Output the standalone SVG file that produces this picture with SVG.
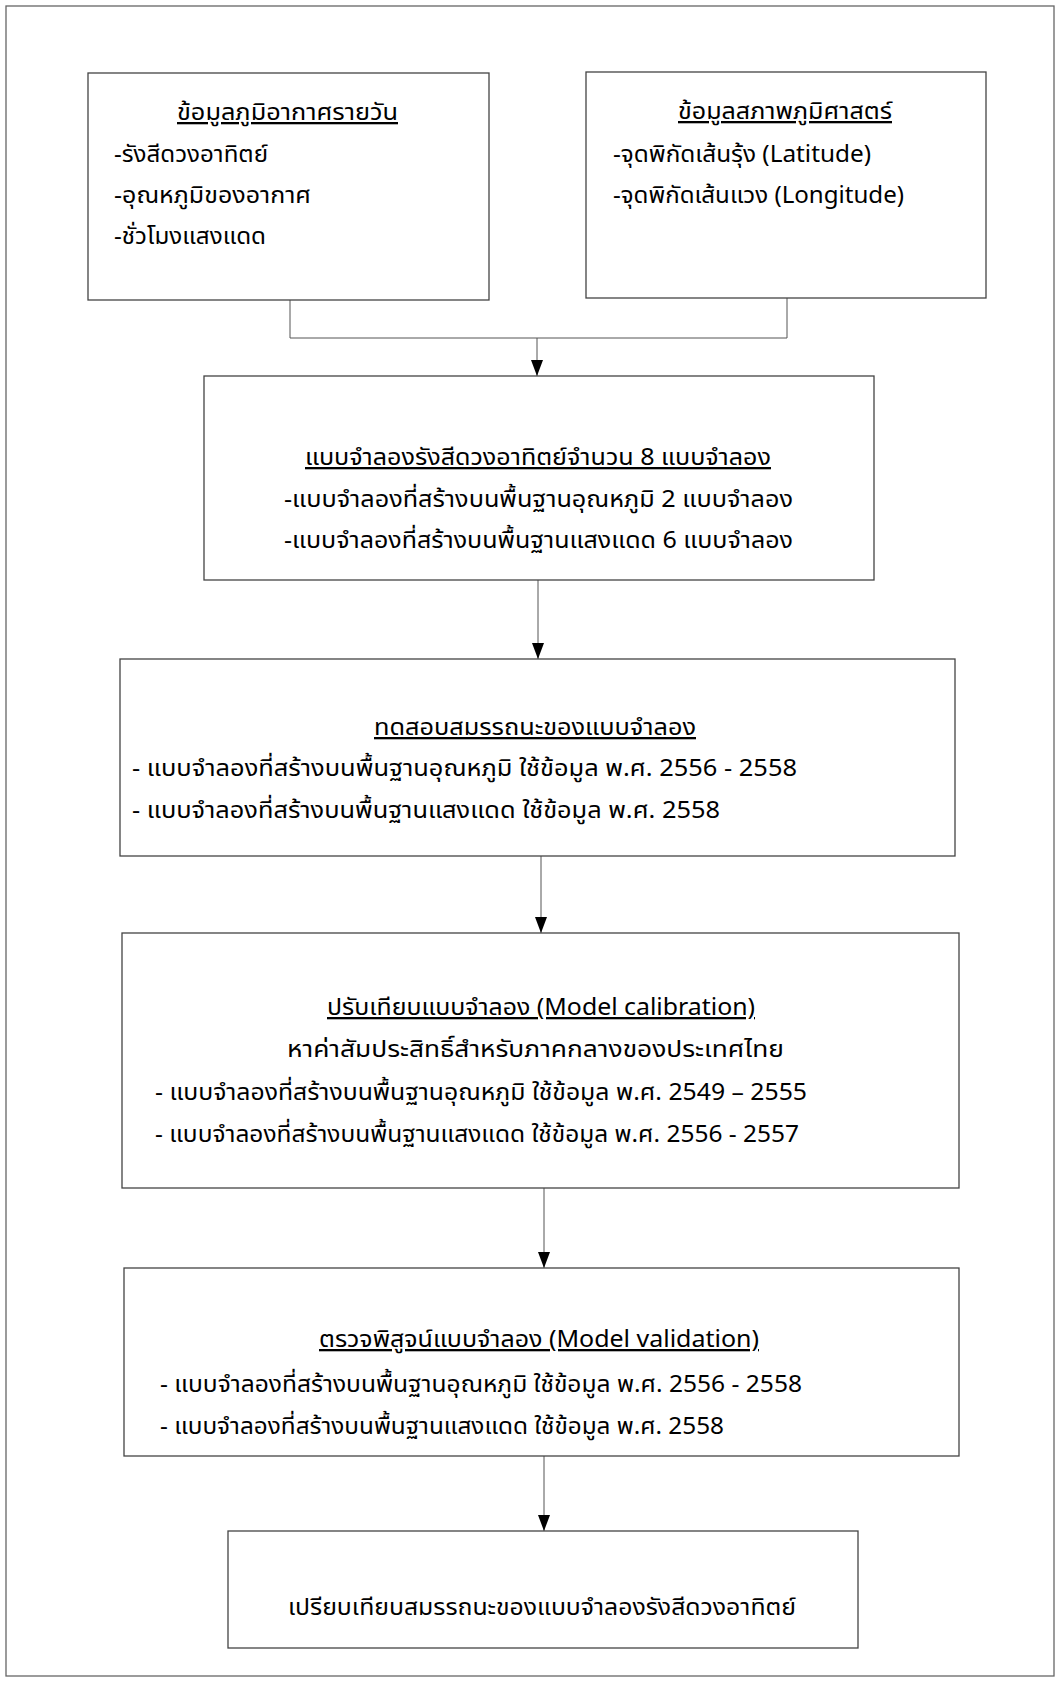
<svg xmlns="http://www.w3.org/2000/svg" width="1060" height="1683" viewBox="0 0 1060 1683">
<defs>
<style>
.frame{fill:#fff;stroke:#666;stroke-width:1.3}
.box{fill:#fff;stroke:#444;stroke-width:1.3}
.t{font-family:"Noto Sans Thai","Noto Sans Thai Looped","Noto Sans","DejaVu Sans",sans-serif;font-size:23px;fill:#000}
.u{text-decoration:underline}
.conn{fill:none;stroke:#555;stroke-width:1}
</style>
<marker id="ah" markerUnits="userSpaceOnUse" markerWidth="16" markerHeight="12" viewBox="0 0 16 12" refX="16" refY="6" orient="auto">
<path d="M0,0 L16,6 L0,12 z" fill="#000"/>
</marker>
</defs>
<rect class="frame" x="6" y="6" width="1048" height="1670"/>
<g id="connectors">
<path class="conn" d="M290,300 V338 H787 V298"/>
<line class="conn" x1="537" y1="338" x2="537" y2="376" marker-end="url(#ah)"/>
<line class="conn" x1="538" y1="580" x2="538" y2="659" marker-end="url(#ah)"/>
<line class="conn" x1="541" y1="856" x2="541" y2="933" marker-end="url(#ah)"/>
<line class="conn" x1="544" y1="1188" x2="544" y2="1268" marker-end="url(#ah)"/>
<line class="conn" x1="544" y1="1456" x2="544" y2="1531" marker-end="url(#ah)"/>
</g>
<g id="node1">
<rect class="box" x="88" y="73" width="401" height="227"/>
<text class="t u" x="177" y="120" textLength="221" lengthAdjust="spacingAndGlyphs">ข้อมูลภูมิอากาศรายวัน</text>
<text class="t" x="114" y="162" textLength="154" lengthAdjust="spacingAndGlyphs">-รังสีดวงอาทิตย์</text>
<text class="t" x="114" y="203" textLength="197" lengthAdjust="spacingAndGlyphs">-อุณหภูมิของอากาศ</text>
<text class="t" x="114" y="244" textLength="152" lengthAdjust="spacingAndGlyphs">-ชั่วโมงแสงแดด</text>
</g>
<g id="node2">
<rect class="box" x="586" y="72" width="400" height="226"/>
<text class="t u" x="678" y="119" textLength="214" lengthAdjust="spacingAndGlyphs">ข้อมูลสภาพภูมิศาสตร์</text>
<text class="t" x="613" y="162" textLength="258" lengthAdjust="spacingAndGlyphs">-จุดพิกัดเส้นรุ้ง (Latitude)</text>
<text class="t" x="613" y="203" textLength="291" lengthAdjust="spacingAndGlyphs">-จุดพิกัดเส้นแวง (Longitude)</text>
</g>
<g id="node3">
<rect class="box" x="204" y="376" width="670" height="204"/>
<text class="t u" x="305" y="465" textLength="466" lengthAdjust="spacingAndGlyphs">แบบจำลองรังสีดวงอาทิตย์จำนวน 8 แบบจำลอง</text>
<text class="t" x="284" y="507" textLength="509" lengthAdjust="spacingAndGlyphs">-แบบจำลองที่สร้างบนพื้นฐานอุณหภูมิ 2 แบบจำลอง</text>
<text class="t" x="284" y="548" textLength="509" lengthAdjust="spacingAndGlyphs">-แบบจำลองที่สร้างบนพื้นฐานแสงแดด 6 แบบจำลอง</text>
</g>
<g id="node4">
<rect class="box" x="120" y="659" width="835" height="197"/>
<text class="t u" x="374" y="735" textLength="322" lengthAdjust="spacingAndGlyphs">ทดสอบสมรรถนะของแบบจำลอง</text>
<text class="t" x="132" y="776" textLength="665" lengthAdjust="spacingAndGlyphs">- แบบจำลองที่สร้างบนพื้นฐานอุณหภูมิ ใช้ข้อมูล พ.ศ. 2556 - 2558</text>
<text class="t" x="132" y="818" textLength="588" lengthAdjust="spacingAndGlyphs">- แบบจำลองที่สร้างบนพื้นฐานแสงแดด ใช้ข้อมูล พ.ศ. 2558</text>
</g>
<g id="node5">
<rect class="box" x="122" y="933" width="837" height="255"/>
<text class="t u" x="327" y="1015" textLength="428" lengthAdjust="spacingAndGlyphs">ปรับเทียบแบบจำลอง (Model calibration)</text>
<text class="t" x="287" y="1057" textLength="497" lengthAdjust="spacingAndGlyphs">หาค่าสัมประสิทธิ์สำหรับภาคกลางของประเทศไทย</text>
<text class="t" x="155" y="1100" textLength="652" lengthAdjust="spacingAndGlyphs">- แบบจำลองที่สร้างบนพื้นฐานอุณหภูมิ ใช้ข้อมูล พ.ศ. 2549 – 2555</text>
<text class="t" x="155" y="1142" textLength="644" lengthAdjust="spacingAndGlyphs">- แบบจำลองที่สร้างบนพื้นฐานแสงแดด ใช้ข้อมูล พ.ศ. 2556 - 2557</text>
</g>
<g id="node6">
<rect class="box" x="124" y="1268" width="835" height="188"/>
<text class="t u" x="319" y="1347" textLength="440" lengthAdjust="spacingAndGlyphs">ตรวจพิสูจน์แบบจำลอง (Model validation)</text>
<text class="t" x="160" y="1392" textLength="642" lengthAdjust="spacingAndGlyphs">- แบบจำลองที่สร้างบนพื้นฐานอุณหภูมิ ใช้ข้อมูล พ.ศ. 2556 - 2558</text>
<text class="t" x="160" y="1434" textLength="564" lengthAdjust="spacingAndGlyphs">- แบบจำลองที่สร้างบนพื้นฐานแสงแดด ใช้ข้อมูล พ.ศ. 2558</text>
</g>
<g id="node7">
<rect class="box" x="228" y="1531" width="630" height="117"/>
<text class="t" x="288" y="1615" textLength="508" lengthAdjust="spacingAndGlyphs">เปรียบเทียบสมรรถนะของแบบจำลองรังสีดวงอาทิตย์</text>
</g>
</svg>
